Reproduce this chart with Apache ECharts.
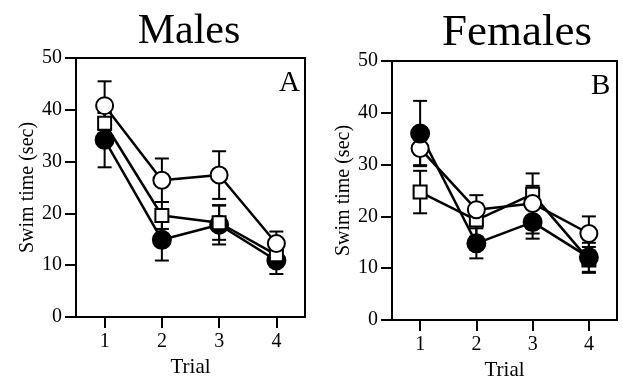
<!DOCTYPE html>
<html>
<head>
<meta charset="utf-8">
<script src="https://cdn.jsdelivr.net/npm/echarts@6/dist/echarts.min.js"></script>
<style>
  html, body { margin: 0; padding: 0; background: #fff; }
  #chart { width: 623px; height: 376px; }
</style>
</head>
<body>
<div id="chart"></div>
<script>
// trials on the x axis
var trials = ['1', '2', '3', '4'];

// Males (panel A): means and error half-widths
var maleOpen = [40.8, 26.4, 27.4, 14.2];
var maleOpenErr = [4.7, 4.2, 4.6, 2.3];
var maleSquare = [37.4, 19.6, 18.2, 12.0];
var maleSquareErr = [2.0, 2.6, 3.3, 1.6];
var maleFilled = [34.2, 14.9, 17.8, 10.9];
var maleFilledErr = [5.3, 4.0, 3.8, 2.6];

// Females (panel B)
var femaleOpen = [33.1, 21.3, 22.5, 16.7];
var femaleOpenErr = [3.2, 2.8, 5.8, 3.3];
var femaleSquare = [24.7, 19.3, 24.3, 11.6];
var femaleSquareErr = [4.1, 3.2, 1.6, 2.5];
var femaleFilled = [36.0, 14.8, 18.9, 12.1];
var femaleFilledErr = [6.3, 2.9, 3.2, 2.8];

var serif = 'Liberation Serif';
var chart = echarts.init(document.getElementById('chart'));

function errorBars(means, errs, gi) {
  return {
    type: 'custom',
    xAxisIndex: gi,
    yAxisIndex: gi,
    z: 1,
    silent: true,
    data: means.map(function (m, i) { return [i, m - errs[i], m + errs[i]]; }),
    encode: { x: 0, y: [1, 2] },
    renderItem: function (params, api) {
      var x = api.value(0);
      var lo = api.coord([x, api.value(1)]);
      var hi = api.coord([x, api.value(2)]);
      var w = 7;
      var st = { stroke: '#000', lineWidth: 2 };
      return {
        type: 'group',
        children: [
          { type: 'line', shape: { x1: lo[0], y1: lo[1], x2: hi[0], y2: hi[1] }, style: st },
          { type: 'line', shape: { x1: hi[0] - w, y1: hi[1], x2: hi[0] + w, y2: hi[1] }, style: st },
          { type: 'line', shape: { x1: lo[0] - w, y1: lo[1], x2: lo[0] + w, y2: lo[1] }, style: st }
        ]
      };
    }
  };
}

function lineSeries(values, gi, symbol, filled, size) {
  return {
    type: 'line',
    xAxisIndex: gi,
    yAxisIndex: gi,
    z: 3,
    data: values,
    symbol: symbol,
    symbolSize: size,
    showSymbol: true,
    lineStyle: { color: '#000', width: 2.5 },
    itemStyle: { color: filled ? '#000' : '#fff', borderColor: '#000', borderWidth: 2 },
    animation: false
  };
}

function xAxis(gi) {
  return {
    type: 'category',
    gridIndex: gi,
    data: trials,
    boundaryGap: true,
    name: 'Trial',
    nameLocation: 'middle',
    nameGap: 40,
    nameTextStyle: { fontFamily: serif, fontSize: 21, color: '#000' },
    axisLine: { show: true, lineStyle: { color: '#000', width: 2 } },
    axisTick: { show: true, alignWithLabel: true, inside: false, length: 11, lineStyle: { color: '#000', width: 2 } },
    axisLabel: { fontFamily: serif, fontSize: 20, color: '#000', margin: 15 },
    splitLine: { show: false }
  };
}

function yAxis(gi) {
  return {
    type: 'value',
    gridIndex: gi,
    min: 0,
    max: 50,
    interval: 10,
    name: 'Swim time (sec)',
    nameLocation: 'middle',
    nameRotate: 90,
    nameGap: 36,
    nameTextStyle: { fontFamily: serif, fontSize: 20, color: '#000' },
    axisLine: { show: true, lineStyle: { color: '#000', width: 2 } },
    axisTick: { show: true, inside: false, length: 11, lineStyle: { color: '#000', width: 2 } },
    axisLabel: { fontFamily: serif, fontSize: 20, color: '#000', margin: 14 },
    splitLine: { show: false }
  };
}

chart.setOption({
  backgroundColor: '#fff',
  animation: false,
  title: [
    { text: 'Males', left: 184, top: 6, textAlign: 'center',
      textStyle: { fontFamily: serif, fontSize: 42, fontWeight: 'normal', color: '#000' } },
    { text: 'Females', left: 512, top: 6, textAlign: 'center',
      textStyle: { fontFamily: serif, fontSize: 45, fontWeight: 'normal', color: '#000' } },
    { text: 'A', left: 274, top: 64,
      textStyle: { fontFamily: serif, fontSize: 29, fontWeight: 'normal', color: '#000' } },
    { text: 'B', left: 586, top: 67,
      textStyle: { fontFamily: serif, fontSize: 29, fontWeight: 'normal', color: '#000' } }
  ],
  grid: [
    { left: 76, top: 58, width: 229, height: 259, show: true, borderColor: '#000', borderWidth: 2, backgroundColor: '#fff',
      containLabel: false, outerBoundsMode: 'none' },
    { left: 392, top: 61, width: 225, height: 259, show: true, borderColor: '#000', borderWidth: 2, backgroundColor: '#fff',
      containLabel: false, outerBoundsMode: 'none' }
  ],
  xAxis: [xAxis(0), xAxis(1)],
  yAxis: [yAxis(0), yAxis(1)],
  series: [
    errorBars(maleFilled, maleFilledErr, 0),
    errorBars(maleSquare, maleSquareErr, 0),
    errorBars(maleOpen, maleOpenErr, 0),
    lineSeries(maleFilled, 0, 'circle', true, 18),
    lineSeries(maleSquare, 0, 'rect', false, 13),
    lineSeries(maleOpen, 0, 'circle', false, 17),

    errorBars(femaleFilled, femaleFilledErr, 1),
    errorBars(femaleSquare, femaleSquareErr, 1),
    errorBars(femaleOpen, femaleOpenErr, 1),
    lineSeries(femaleSquare, 1, 'rect', false, 13),
    lineSeries(femaleOpen, 1, 'circle', false, 17),
    lineSeries(femaleFilled, 1, 'circle', true, 18)
  ]
});
</script>
</body>
</html>
